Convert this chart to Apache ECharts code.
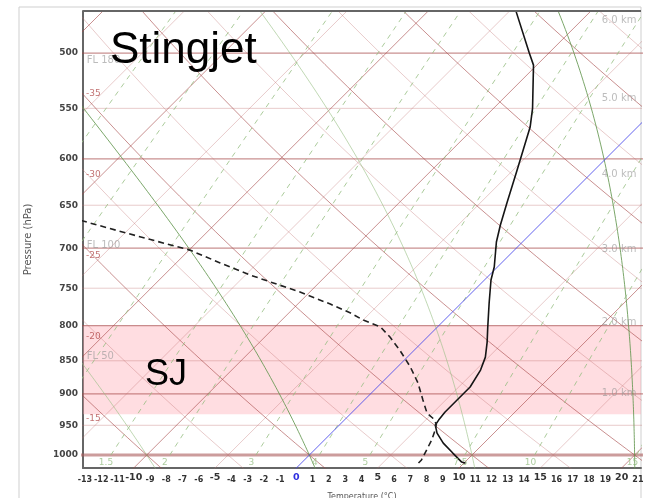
<!DOCTYPE html>
<html><head><meta charset="utf-8">
<script src="https://cdn.jsdelivr.net/npm/echarts@6/dist/echarts.min.js"></script>
<style>html,body{margin:0;padding:0;background:#fff}#c{width:648px;height:498px}</style>
</head><body><div id="c"></div>
<script>
// ---- sounding data (pressure hPa, temperature °C) ----
const tempP = [456, 465.1, 500, 510.5, 550, 568, 611.8, 647.6, 672.6, 692.6, 723, 739.4, 769.3, 802, 823.4, 844.6, 863.7, 889.3, 909.5, 928.5, 941.5, 949.6, 962.8, 979.6, 996.6, 1012.2, 1014];
const tempT = [-15.5, -14.6, -11.2, -10.2, -7.6, -6.6, -4.75, -3.35, -2.4, -1.6, -0.2, 0.4, 1.7, 3.1, 4.0, 4.8, 5.3, 5.7, 5.7, 5.7, 5.8, 5.9, 6.5, 7.5, 8.7, 9.8, 10.1];
const dewP = [655, 668, 682, 702.3, 718, 733.2, 745.9, 755, 770.8, 782.8, 792.3, 801.9, 815.9, 834.4, 859.2, 883.2, 909.5, 930.1, 938.1, 947.9, 957.8, 974.5, 991.4, 1008.6, 1013.8];
const dewT = [-31.5, -28.3, -24.9, -19.95, -17.3, -14.7, -12.3, -10.6, -8.0, -6.2, -5.0, -3.5, -2.3, -0.9, 0.8, 2.25, 3.6, 4.65, 5.3, 5.9, 6.2, 6.6, 6.9, 7.2, 7.2];

// ---- chart furniture ----
const pressureTicks = [500, 550, 600, 650, 700, 750, 800, 850, 900, 950, 1000];
const tempTicks = [-13,-12,-11,-10,-9,-8,-7,-6,-5,-4,-3,-2,-1,0,1,2,3,4,5,6,7,8,9,10,11,12,13,14,15,16,17,18,19,20,21];
const isotherms = [-60,-55,-50,-45,-40,-35,-30,-25,-20,-15,-10,-5,0,5,10,15,20,25,30,35,40];
const isothermLabels = [-35, -30, -25, -20, -15];
const dryAdiabats = [-40,-35,-30,-25,-20,-15,-10,-5,0,5,10,15,20,25,30,35,40,45,50,55,60,65,70,75,80,85,90,95,100];
const moistAdiabats = [-10, 0, 10, 20, 30];
const mixingRatios = [0.4, 0.6, 1, 1.5, 2, 3, 4, 5, 7.5, 10, 15, 20];
const mixingLabels = [1.5, 2, 3, 4, 5, 7.5, 10, 15];
const flightLevels = ['FL 180', 'FL 100', 'FL 50'];
const flightLevelP = [506, 697, 843];
const kmLabels = ['1.0 km', '2.0 km', '3.0 km', '4.0 km', '5.0 km', '6.0 km'];
const kmP = [898.7, 795.0, 701.1, 616.4, 540.2, 472.2];
const band = [800, 932];

// skew geometry
const XMIN = -13.12, XMAX = 21.19, PTOP = 465, PBOT = 1022.6, K = 35.67;
const sx = (T, p) => T + K * Math.log(PBOT / p);

function es(Tc) { return 6.112 * Math.exp(17.67 * Tc / (Tc + 243.5)); }
function tdFromW(w, p) { const e = w * p / (622 + w); const l = Math.log(e / 6.112); return 243.5 * l / (17.67 - l); }
function moistRate(p, Tk) {
  const Rd = 287.04, Cp = 1005.7, Lv = 2.501e6, eps = 0.622;
  const e = es(Tk - 273.15), rs = eps * e / (p - e);
  return ((Rd * Tk + Lv * rs) / p) / (Cp + Lv * Lv * rs * eps / (Rd * Tk * Tk));
}
function moistLine(tw) {
  const pts = [];
  let T = tw + 273.15;
  for (let p = 1000; p >= 400; p -= 5) {
    pts.push([sx(T - 273.15, p), p]);
    const k1 = moistRate(p, T), k2 = moistRate(p - 2.5, T - 2.5 * k1);
    T -= 5 * k2;
  }
  T = tw + 273.15; const down = [];
  for (let p = 1000; p <= 1060; p += 5) {
    if (p > 1000) down.push([sx(T - 273.15, p), p]);
    const k1 = moistRate(p, T), k2 = moistRate(p + 2.5, T + 2.5 * k1);
    T += 5 * k2;
  }
  return down.reverse().concat(pts);
}

const chart = echarts.init(document.getElementById('c'), null, { renderer: 'canvas' });
const series = [];
function addLine(data, color, width, type, z) {
  series.push({ type: 'line', data, symbol: 'none', silent: true, animation: false, clip: true, z: z || 2,
    lineStyle: { color, width, type: type || 'solid' } });
}
const DARK = 'rgba(165,70,70,0.6)', LIGHT = 'rgba(190,110,110,0.36)';

// pink band
series.push({ type: 'line', data: [], silent: true, z: 1,
  markArea: { silent: true, itemStyle: { color: 'rgba(255,160,172,0.36)' }, data: [[{ yAxis: band[0] }, { yAxis: band[1] }]] } });

// isobars
pressureTicks.forEach((p, i) => {
  const c = p === 1000 ? 'rgba(170,90,90,0.6)' : (i % 2 === 0 ? DARK : LIGHT);
  addLine([[XMIN - 2, p], [XMAX + 2, p]], c, p === 1000 ? 3 : (i % 2 === 0 ? 1.2 : 1), 'solid', 2);
});
// isotherms
isotherms.forEach(T => {
  const c = T === 0 ? 'rgba(70,70,235,0.85)' : (T % 10 === 0 ? DARK : LIGHT);
  addLine([[sx(T, 1100), 1100], [sx(T, 400), 400]], c, 1, 'solid', T === 0 ? 3 : 2);
});
// dry adiabats
dryAdiabats.forEach(th => {
  const pts = [];
  for (let p = 1100; p >= 400; p -= 10) {
    const T = (th + 273.15) * Math.pow(p / 1000, 0.2857) - 273.15;
    pts.push([sx(T, p), p]);
  }
  addLine(pts, th % 10 === 0 ? DARK : LIGHT, 1, 'solid', 2);
});
// moist adiabats
moistAdiabats.forEach(tw => {
  addLine(moistLine(tw), tw % 20 === 0 ? 'rgba(100,150,80,0.85)' : 'rgba(150,190,130,0.6)', 1, 'solid', 2);
});
// mixing ratio lines
mixingRatios.forEach(w => {
  const pts = [];
  for (let p = 1000; p >= 400; p -= 20) pts.push([sx(tdFromW(w, p), p), p]);
  addLine(pts, 'rgba(150,190,130,0.8)', 1, [5, 5], 2);
});

// sounding
addLine(tempP.map((p, i) => [sx(tempT[i], p), p]), '#151515', 1.6, 'solid', 6);
addLine(dewP.map((p, i) => [sx(dewT[i], p), p]), '#202020', 1.6, [6, 4], 6);

// text labels anchored to data
function addLabels(data, color, size, pos, extra) {
  series.push({ type: 'scatter', data, symbolSize: 1, silent: true, animation: false, z: 8, clip: false,
    itemStyle: { color: 'rgba(0,0,0,0)' },
    label: Object.assign({ show: true, position: pos, distance: 0, color, fontSize: size, fontFamily: 'DejaVu Sans',
      formatter: d => d.data[2] }, extra || {}) });
}
addLabels(isothermLabels.map(T => { const pe = PBOT * Math.exp(-(XMIN - T) / K); return [XMIN + 0.15, pe * Math.exp(-19 / 580), String(T)]; }),
  'rgba(170,60,60,0.9)', 9, 'right');
addLabels(mixingLabels.map(w => [sx(tdFromW(w, 1013), 1013), 1013, String(w)]), 'rgba(140,185,120,0.9)', 9, 'inside');
addLabels(flightLevels.map((t, i) => [XMIN + 0.2, flightLevelP[i], t]), 'rgba(150,150,150,0.8)', 10, 'right');
addLabels(kmLabels.map((t, i) => [XMAX - 0.25, kmP[i], t]), 'rgba(150,150,150,0.8)', 10, 'left');

const option = {
  animation: false,
  backgroundColor: '#fff',
  grid: { left: 83, top: 11, right: 7, bottom: 30, outerBoundsMode: 'none', containLabel: false },
  xAxis: [{
    type: 'value', min: XMIN, max: XMAX,
    name: 'Temperature (°C)', nameLocation: 'middle', nameGap: 25,
    nameTextStyle: { fontSize: 8, color: '#555', fontFamily: 'DejaVu Sans' },
    axisLine: { show: true, onZero: false, lineStyle: { color: '#666', width: 2 } },
    axisTick: { show: false }, splitLine: { show: false },
    axisLabel: { customValues: tempTicks.filter(v => v % 5 !== 0), margin: 8, fontSize: 8, fontWeight: 'bold',
      fontFamily: 'DejaVu Sans', color: '#333', formatter: v => String(v) }
  }, {
    type: 'value', min: XMIN, max: XMAX, position: 'bottom',
    axisLine: { show: false }, axisTick: { show: false }, splitLine: { show: false },
    axisLabel: { customValues: tempTicks.filter(v => v % 5 === 0), margin: 5, fontSize: 9.5, fontWeight: 'bold',
      fontFamily: 'DejaVu Sans', formatter: v => (Number(v) === 0 ? '{z|0}' : String(v)), color: '#333',
      rich: { z: { color: '#3030e0', fontSize: 9.5, fontWeight: 'bold', fontFamily: 'DejaVu Sans' } } }
  }],
  yAxis: {
    type: 'log', logBase: 10, inverse: true, min: PTOP, max: PBOT,
    name: 'Pressure (hPa)', nameLocation: 'middle', nameGap: 50, nameRotate: 90,
    nameTextStyle: { fontSize: 10, color: '#555', fontFamily: 'DejaVu Sans' },
    axisLine: { show: true, onZero: false, lineStyle: { color: '#666', width: 2 } },
    axisTick: { show: false }, splitLine: { show: false },
    axisLabel: { customValues: pressureTicks, margin: 5, fontSize: 9, fontWeight: 'bold', fontFamily: 'DejaVu Sans', color: '#444',
      formatter: v => String(Math.round(v)) }
  },
  series,
  graphic: [
    { type: 'rect', shape: { x: 19, y: 7, width: 622, height: 520 }, style: { fill: 'none', stroke: '#cfcfcf', lineWidth: 1 }, z: 0, silent: true },
    { type: 'line', shape: { x1: 83, y1: 11, x2: 641, y2: 11 }, style: { stroke: '#666', lineWidth: 2 }, z: 10, silent: true },
    { type: 'text', left: 110, top: 29, style: { text: 'Stingjet', fontSize: 44, fontFamily: 'Liberation Sans', fill: '#000' }, z: 20 },
    { type: 'text', left: 145, top: 357, style: { text: 'SJ', fontSize: 36, fontFamily: 'Liberation Sans', fill: '#000' }, z: 20 }
  ]
};
chart.setOption(option);
</script></body></html>
